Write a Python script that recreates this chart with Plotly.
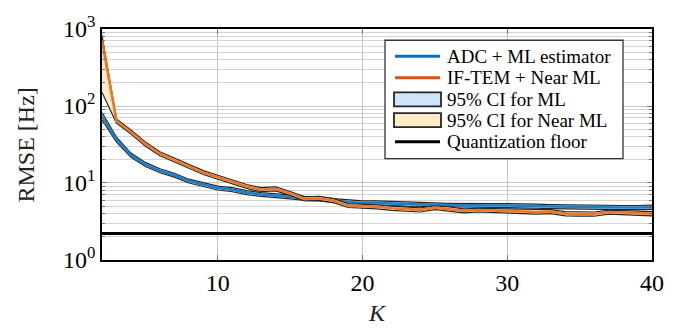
import plotly.graph_objects as go

# ---------------- data ----------------
K = list(range(2, 41))
adc_ml = [74, 36.7, 23, 17.4, 14.4, 12.6, 10.6, 9.6, 8.6,
          8.2, 7.5, 7.1, 6.9, 6.6, 6.3, 6.2, 5.9, 5.65, 5.5,
          5.5, 5.4, 5.3, 5.25, 5.2, 5.15, 5.1, 5.1, 5.1, 5.1,
          5.0, 5.0, 4.95, 4.9, 4.9, 4.9, 4.85, 4.8, 4.8, 4.85]
adc_lo = [66, 34, 21.6, 16.4, 13.6, 11.9, 10.0, 9.05, 8.1,
          7.7, 7.05, 6.7, 6.5, 6.2, 5.95, 5.85, 5.55, 5.3, 5.2,
          5.2, 5.1, 5.0, 4.95, 4.9, 4.85, 4.8, 4.8, 4.8, 4.8,
          4.7, 4.7, 4.65, 4.6, 4.6, 4.6, 4.55, 4.5, 4.5, 4.55]
adc_hi = [82, 39.5, 24.5, 18.5, 15.3, 13.4, 11.2, 10.2, 9.1,
          8.7, 7.95, 7.5, 7.3, 7.0, 6.7, 6.6, 6.25, 6.0, 5.85,
          5.85, 5.75, 5.6, 5.55, 5.5, 5.45, 5.4, 5.4, 5.4, 5.4,
          5.3, 5.3, 5.25, 5.2, 5.2, 5.2, 5.15, 5.1, 5.1, 5.15]
iftem = [700, 64, 46, 32, 24, 20, 16.6, 13.7, 11.9,
         10.4, 9.0, 8.2, 8.4, 7.3, 6.2, 6.3, 5.9, 5.1, 5.05,
         4.9, 4.7, 4.6, 4.47, 4.78, 4.6, 4.35, 4.45, 4.4, 4.35,
         4.3, 4.2, 4.25, 4.0, 3.95, 3.95, 4.2, 4.15, 4.1, 4.0]
iftem_lo = [150, 60, 43.3, 30.1, 22.6, 18.8, 15.6, 12.9, 11.2,
            9.8, 8.5, 7.7, 7.9, 6.9, 5.85, 5.95, 5.55, 4.8, 4.75,
            4.6, 4.4, 4.3, 4.2, 4.5, 4.3, 4.1, 4.2, 4.15, 4.1,
            4.05, 3.95, 4.0, 3.75, 3.7, 3.7, 3.95, 3.9, 3.85, 3.75]
iftem_hi = [830, 68, 48.8, 34, 25.4, 21.2, 17.6, 14.5, 12.6,
            11.0, 9.55, 8.7, 8.9, 7.75, 6.6, 6.7, 6.25, 5.4, 5.35,
            5.2, 5.0, 4.9, 4.75, 5.05, 4.9, 4.6, 4.7, 4.65, 4.6,
            4.55, 4.45, 4.5, 4.25, 4.2, 4.2, 4.45, 4.4, 4.35, 4.25]
quant_floor = 2.2

x_ticks = [10, 20, 30, 40]
y_ticks = [1, 10, 100, 1000]
y_ticktext = ["10<sup>0</sup>", "10<sup>1</sup>", "10<sup>2</sup>", "10<sup>3</sup>"]
legend_labels = ["ADC + ML estimator", "IF-TEM + Near ML", "95% CI for ML",
                 "95% CI for Near ML", "Quantization floor"]

# ---------------- style ----------------
BLUE = "#1f7fc4"
ORANGE = "#e9782c"
BLUE_LEG = "#0072BD"
ORANGE_LEG = "#D95319"
BLUE_FILL = "#cde6fa"
ORANGE_FILL = "#fdebc6"
EDGE = "#262626"
FONT = "Liberation Serif"

W, H = 686, 333
ML, MR, MT, MB = 102, 34, 14, 73
PW, PH = W - ML - MR, H - MT - MB

def px(xp):
    return (xp - ML) / PW

def py(yp):
    return (H - MB - yp) / PH

fig = go.Figure()

def band(lo, hi, fill, name):
    fig.add_trace(go.Scatter(x=K, y=hi, mode="lines", line=dict(color=EDGE, width=1.2),
                             showlegend=False, hoverinfo="skip", name=name + " hi"))
    fig.add_trace(go.Scatter(x=K, y=lo, mode="lines", line=dict(color=EDGE, width=1.2),
                             fill="tonexty", fillcolor=fill, showlegend=False,
                             hoverinfo="skip", name=name + " lo"))

band(adc_lo, adc_hi, BLUE_FILL, "ML CI")
fig.add_trace(go.Scatter(x=K, y=adc_ml, mode="lines", line=dict(color=BLUE, width=2.6),
                         showlegend=False, name=legend_labels[0]))
band(iftem_lo, iftem_hi, ORANGE_FILL, "Near ML CI")
fig.add_trace(go.Scatter(x=K, y=iftem, mode="lines", line=dict(color=ORANGE, width=2.6),
                         showlegend=False, name=legend_labels[1]))
fig.add_trace(go.Scatter(x=[K[0], K[-1]], y=[quant_floor, quant_floor], mode="lines",
                         line=dict(color="black", width=3), showlegend=False,
                         name=legend_labels[4]))

# ---------------- manual legend ----------------
shapes = []
annotations = []
shapes.append(dict(type="rect", xref="paper", yref="paper",
                   x0=px(385), x1=px(623), y0=py(152), y1=py(26),
                   line=dict(color="#333333", width=1.3), fillcolor="white", layer="above"))
entry_y = [43, 66, 89, 111, 134]
sx0, sx1, tx = 395, 440, 445
kinds = [("line", BLUE_LEG), ("line", ORANGE_LEG), ("box", BLUE_FILL),
         ("box", ORANGE_FILL), ("line", "black")]
for (kind, col), yy, lab in zip(kinds, entry_y, legend_labels):
    if kind == "line":
        shapes.append(dict(type="line", xref="paper", yref="paper",
                           x0=px(sx0), x1=px(sx1), y0=py(yy), y1=py(yy),
                           line=dict(color=col, width=3), layer="above"))
    else:
        shapes.append(dict(type="rect", xref="paper", yref="paper",
                           x0=px(sx0 - 1), x1=px(sx1 + 1), y0=py(yy + 7.5), y1=py(yy - 7.5),
                           line=dict(color=EDGE, width=1.8), fillcolor=col, layer="above"))
    annotations.append(dict(xref="paper", yref="paper", x=px(tx), y=py(yy),
                            xanchor="left", yanchor="middle", text=lab, showarrow=False,
                            font=dict(family=FONT, size=19, color="black")))

annotations.append(dict(xref="paper", yref="paper", x=px(25), y=py(137),
                        xanchor="center", yanchor="middle", text="RMSE [Hz]",
                        textangle=-90, showarrow=False,
                        font=dict(family=FONT, size=24, color="#222")))
annotations.append(dict(xref="paper", yref="paper", x=px(377), y=py(316),
                        xanchor="center", yanchor="middle", text="<i>K</i>",
                        showarrow=False, font=dict(family=FONT, size=24, color="#222")))

minor_vals = [m * 10 ** e for e in range(0, 3) for m in range(2, 10)]

fig.update_layout(
    width=W, height=H,
    margin=dict(l=ML, r=MR, t=MT, b=MB),
    paper_bgcolor="white", plot_bgcolor="white",
    font=dict(family=FONT, size=24, color="black"),
    shapes=shapes, annotations=annotations,
    xaxis=dict(range=[2, 40], tickvals=x_ticks, ticks="inside", ticklen=5,
               tickcolor="#777", showgrid=True, gridcolor="#c4c4c4", gridwidth=1,
               showline=True, linecolor="black", linewidth=1.5, mirror="ticks",
               zeroline=False, tickfont=dict(family=FONT, size=24),
               ticklabeloverflow="allow"),
    yaxis=dict(type="log", range=[-0.0005, 3.0005], tickvals=y_ticks, ticktext=y_ticktext,
               ticks="inside", ticklen=5, tickcolor="#777", showgrid=True,
               gridcolor="#c4c4c4", gridwidth=1,
               minor=dict(tickvals=minor_vals, ticks="inside", ticklen=3, tickcolor="#777",
                          showgrid=True, gridcolor="#d4d4d4", gridwidth=1),
               showline=True, linecolor="black", linewidth=1.5, mirror="ticks",
               zeroline=False, tickfont=dict(family=FONT, size=24),
               ticklabeloverflow="allow"),
)

fig.write_html("out.html", config={"displayModeBar": False},
               post_script="document.body.style.margin='0';")
